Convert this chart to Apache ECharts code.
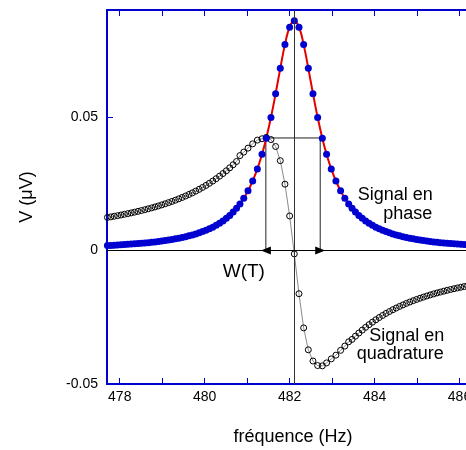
<!DOCTYPE html>
<html><head><meta charset="utf-8">
<script src="https://cdn.jsdelivr.net/npm/echarts@6/dist/echarts.min.js"></script>
<style>html,body{margin:0;padding:0;overflow:hidden;background:#fff}#c{width:500px;height:450px}</style>
</head><body><div id="c"></div>
<script>
// frequencies (Hz)
const frequency = [
477.71,477.79,477.87,477.95,478.03,478.11,478.19,478.27,478.35,478.43,478.51,478.59,478.67,478.75,478.83,478.91,478.99,479.07,479.15,479.23,
479.31,479.39,479.47,479.55,479.63,479.71,479.79,479.87,479.95,480.03,480.11,480.19,480.27,480.35,480.43,480.51,480.59,480.67,480.75,
480.83,480.92,481.02,481.13,481.24,481.35,
481.45,481.56,481.67,481.78,481.89,482.00,482.11,482.22,482.33,482.44,482.55,482.66,482.77,
482.87,482.98,483.09,483.20,483.30,483.39,
483.47,483.55,483.63,483.71,483.79,483.87,483.95,484.03,484.11,484.19,484.27,484.35,484.43,484.51,484.59,484.67,484.75,484.83,484.91,484.99,
485.07,485.15,485.23,485.31,485.39,485.47,485.55,485.63,485.71,485.79,485.87,485.95,486.03,486.11,486.19,486.27,486.35,486.43,486.51
];
// in-phase signal (µV)
const inPhase = [
0.00181,0.00188,0.00195,0.00202,0.00210,0.00218,0.00227,0.00236,0.00246,0.00256,0.00268,0.00279,0.00292,0.00306,0.00320,0.00336,0.00353,0.00371,0.00390,0.00411,
0.00433,0.00458,0.00484,0.00513,0.00545,0.00579,0.00617,0.00659,0.00704,0.00754,0.00810,0.00872,0.00941,0.01018,0.01105,0.01202,0.01312,0.01437,0.01579,
0.01742,0.01953,0.02230,0.02599,0.03050,0.03601,
0.04201,0.04979,0.05869,0.06816,0.07704,0.08357,0.08600,0.08357,0.07704,0.06816,0.05869,0.04979,0.04201,
0.03601,0.03050,0.02599,0.02230,0.01953,0.01742,
0.01579,0.01437,0.01312,0.01202,0.01105,0.01018,0.00941,0.00872,0.00810,0.00754,0.00704,0.00659,0.00617,0.00579,0.00545,0.00513,0.00484,0.00458,0.00433,0.00411,
0.00390,0.00371,0.00353,0.00336,0.00320,0.00306,0.00292,0.00279,0.00268,0.00256,0.00246,0.00236,0.00227,0.00218,0.00210,0.00202,0.00195,0.00188,0.00181
];
// quadrature signal (µV)
const quadrature = [
0.01234,0.01256,0.01279,0.01302,0.01326,0.01352,0.01378,0.01405,0.01433,0.01462,0.01493,0.01525,0.01558,0.01592,0.01628,0.01666,0.01705,0.01746,0.01789,0.01834,
0.01881,0.01931,0.01983,0.02038,0.02095,0.02156,0.02219,0.02287,0.02358,0.02433,0.02512,0.02596,0.02685,0.02779,0.02878,0.02982,0.03093,0.03208,0.03330,
0.03550,0.03680,0.03830,0.03990,0.04130,0.04180,
0.04230,0.04150,0.03890,0.03360,0.02480,0.01290,-0.00130,-0.01620,-0.02900,-0.03720,-0.04140,-0.04310,-0.04320,
-0.04210,-0.04060,-0.03920,-0.03740,-0.03580,-0.03420,
-0.03330,-0.03208,-0.03093,-0.02982,-0.02878,-0.02779,-0.02685,-0.02596,-0.02512,-0.02433,-0.02358,-0.02287,-0.02219,-0.02156,-0.02095,-0.02038,-0.01983,-0.01931,-0.01881,-0.01834,
-0.01789,-0.01746,-0.01705,-0.01666,-0.01628,-0.01592,-0.01558,-0.01525,-0.01493,-0.01462,-0.01433,-0.01405,-0.01378,-0.01352,-0.01326,-0.01302,-0.01279,-0.01256,-0.01234
];
const xTicks = [478,479,480,481,482,483,484,485,486];
const xTickLabels = [478,480,482,484,486];
const yTickLabels = [-0.05,0,0.05];
const yTicks = [0.05];
const centerFrequency = 482.11;
const halfWidthLow = 481.44;
const halfWidthHigh = 482.72;
const halfMaximum = 0.0421;

const BLUE = '#0000d0';
const FONT = 'Liberation Sans';

const inPhasePts = frequency.map((f, i) => [f, inPhase[i]]);
const quadPts = frequency.map((f, i) => [f, quadrature[i]]);

const chart = echarts.init(document.getElementById('c'), null, {renderer: 'canvas'});

function xAxisDef(pos, showLabels) {
  return {
    type: 'value', position: pos, min: 477.7, max: 486.6,
    axisLine: {show: true, onZero: false, lineStyle: {color: BLUE, width: 2}},
    axisTick: {show: true, inside: true, length: 6, customValues: xTicks, lineStyle: {color: BLUE, width: 1}},
    axisLabel: {show: showLabels, customValues: xTickLabels, margin: 6, color: '#000', fontSize: 14, fontFamily: FONT},
    splitLine: {show: false}
  };
}
function yAxisDef(pos, showLabels) {
  return {
    type: 'value', position: pos, min: -0.05, max: 0.09,
    axisLine: {show: true, onZero: false, lineStyle: {color: BLUE, width: 2}},
    axisTick: {show: true, inside: true, length: 6, customValues: yTicks, lineStyle: {color: BLUE, width: 1}},
    axisLabel: {show: showLabels, customValues: yTickLabels, margin: 9, color: '#000', fontSize: 14, fontFamily: FONT,
      formatter: v => String(v)},
    splitLine: {show: false}
  };
}

chart.setOption({
  animation: false,
  backgroundColor: '#fff',
  grid: {left: 107, top: 10, right: 15, bottom: 66, containLabel: false},
  xAxis: [xAxisDef('bottom', true), xAxisDef('top', false)],
  yAxis: [yAxisDef('left', true), yAxisDef('right', false)],
  series: [
    {
      name: 'guides', type: 'line', xAxisIndex: 0, yAxisIndex: 0,
      data: [[halfWidthLow, 0], [halfWidthLow, halfMaximum], [halfWidthHigh, halfMaximum], [halfWidthHigh, 0]],
      symbol: 'none', lineStyle: {color: '#222', width: 1}, z: 1, silent: true,
      markLine: {
        silent: true, symbol: 'none', animation: false,
        label: {show: false},
        lineStyle: {color: '#000', width: 1, type: 'solid'},
        data: [
          {yAxis: 0, lineStyle: {color: '#000', width: 1, type: 'solid'}},
          {xAxis: centerFrequency, lineStyle: {color: '#333', width: 1, type: 'solid'}},
          [{coord: [halfWidthLow, 0], symbol: 'triangle', symbolSize: [8, 10]},
           {coord: [halfWidthHigh, 0], symbol: 'triangle', symbolSize: [8, 10]}]
        ]
      }
    },
    {
      name: 'fit', type: 'line', data: inPhasePts, showSymbol: false, smooth: true,
      lineStyle: {color: '#e50000', width: 2}, z: 2, silent: true
    },
    {
      name: 'quadrature', type: 'line', data: quadPts, symbol: 'circle', symbolSize: 6, showAllSymbol: true,
      itemStyle: {color: 'rgba(255,255,255,0)', borderColor: '#000', borderWidth: 1},
      lineStyle: {color: '#8a8a8a', width: 1}, z: 3, silent: true
    },
    {
      name: 'phase', type: 'scatter', data: inPhasePts, symbolSize: 7,
      itemStyle: {color: BLUE, opacity: 1}, z: 4, silent: true
    }
  ],
  graphic: [
    {type: 'text', x: 357.7, y: 195.5, style: {text: 'Signal en', font: '18px "Liberation Sans"', fill: '#000', verticalAlign: 'middle'}},
    {type: 'text', x: 383.3, y: 213.8, style: {text: 'phase', font: '18px "Liberation Sans"', fill: '#000', verticalAlign: 'middle'}},
    {type: 'text', x: 369.3, y: 336.5, style: {text: 'Signal en', font: '18px "Liberation Sans"', fill: '#000', verticalAlign: 'middle'}},
    {type: 'text', x: 356.7, y: 354.5, style: {text: 'quadrature', font: '18px "Liberation Sans"', fill: '#000', verticalAlign: 'middle'}},
    {type: 'text', x: 222.7, y: 271.7, style: {text: 'W(T)', font: '19px "Liberation Sans"', fill: '#000', verticalAlign: 'middle'}},
    {type: 'text', x: 293, y: 437, style: {text: 'fréquence (Hz)', font: '18px "Liberation Sans"', fill: '#000', align: 'center', verticalAlign: 'middle'}},
    {type: 'text', x: 26.7, y: 197, rotation: Math.PI / 2, style: {text: 'V (μV)', font: '18px "Liberation Sans"', fill: '#000', align: 'center', verticalAlign: 'middle'}}
  ]
});
</script></body></html>
